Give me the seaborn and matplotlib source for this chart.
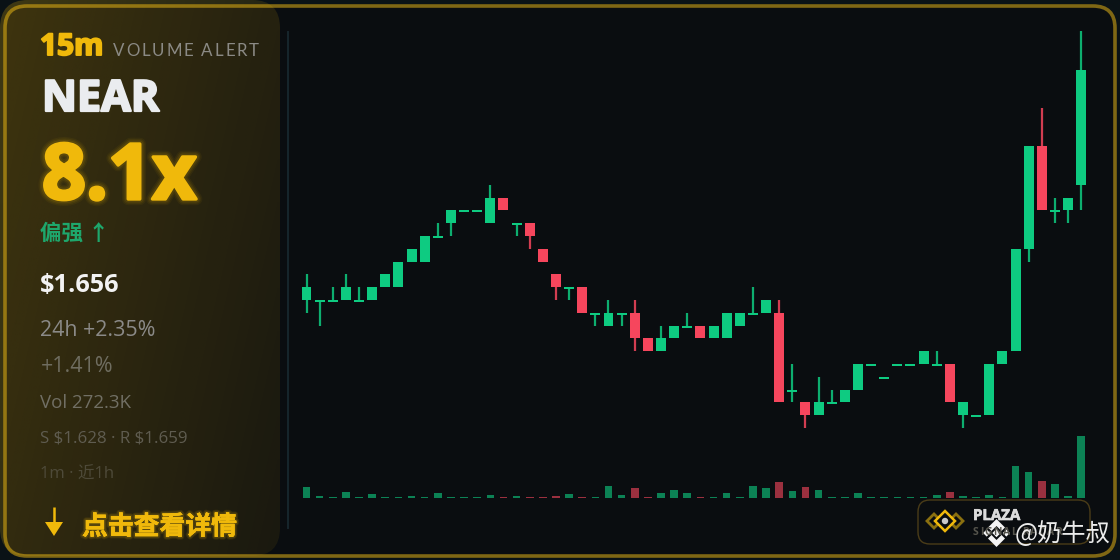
import numpy as np
import pandas as pd
import matplotlib
matplotlib.use('Agg')
import matplotlib.pyplot as plt
import matplotlib.patheffects as pe
from matplotlib.patches import FancyBboxPatch, Polygon, Circle
import seaborn as sns

# candle data, prices in thousandths of a dollar
opens  = [1638,1638,1638,1638,1638,1638,1639,1639,1641,1641,1643,1644,1645,1645,1644,
          1646,1644,1644,1642,1640,1639,1639,1637,1636,1637,1637,1635,1634,1635,1636,
          1636,1635,1635,1636,1637,1637,1637,1631,1630,1629,1630,1630,1631,1633,1632,
          1633,1633,1633,1633,1633,1629,1629,1629,1633,1634,1642,1650,1645,1645,1647]
closes = [1639,1638,1638,1639,1638,1639,1640,1641,1642,1643,1643,1645,1645,1645,1646,
          1645,1644,1643,1641,1639,1639,1637,1637,1637,1637,1635,1634,1635,1636,1636,
          1635,1636,1637,1637,1637,1638,1630,1631,1629,1630,1630,1631,1633,1633,1632,
          1633,1633,1634,1633,1630,1630,1629,1633,1634,1642,1650,1645,1645,1646,1656]
highs  = [1640,1638,1639,1640,1639,1639,1640,1641,1642,1643,1644,1645,1645,1645,1647,
          1646,1644,1644,1642,1640,1639,1639,1637,1638,1637,1638,1635,1636,1636,1637,
          1636,1636,1637,1637,1639,1638,1638,1633,1630,1632,1631,1631,1633,1633,1632,
          1633,1633,1634,1634,1633,1630,1629,1633,1634,1642,1650,1653,1646,1646,1659]
lows   = [1637,1636,1638,1638,1638,1638,1639,1639,1641,1641,1643,1643,1645,1645,1644,
          1645,1643,1642,1641,1638,1638,1637,1636,1636,1636,1634,1634,1634,1635,1636,
          1635,1635,1635,1636,1637,1637,1630,1630,1628,1629,1630,1630,1631,1633,1632,
          1633,1633,1633,1633,1630,1628,1629,1629,1633,1634,1641,1645,1644,1644,1645]
# volume in thousands
volumes = [47,8.8,4.4,26,4.4,16,4.4,4.4,6.6,4.4,22,4.4,4.4,4.4,14.5,
           4.4,8.8,4.4,4.4,6.6,17.6,4.4,4.4,53,12,45,4.4,22,35,22,
           4.4,4.4,21,4.4,51,44,69,31,50,34,4.4,4.4,23,4.4,4.4,
           5.7,4.4,4.4,12,26,7.5,4.4,12,4.4,142,113,73,61,8.8,272.3]

GREEN = '#0ecb81'
RED = '#f6465d'
GOLD = '#f0b90b'
BG = '#0a0d10'
LATIN = ['Open Sans', 'Noto Sans CJK SC', 'DejaVu Sans']

sns.set_theme(style='dark', rc={'figure.facecolor': '#0a1216', 'axes.facecolor': 'none'})
plt.rcParams['font.family'] = ['Noto Sans CJK SC', 'DejaVu Sans']

df = pd.DataFrame({'idx': np.arange(len(opens)), 'open': opens, 'close': closes,
                   'high': highs, 'low': lows, 'vol': volumes})
df['up'] = df['close'] >= df['open']
df['bottom'] = df[['open', 'close']].max(axis=1) / 1000
df['body'] = (df['close'] - df['open']).abs() / 1000
# flat candles still show as a thin 2px dash
df['body'] = df['body'].clip(lower=0.00016)
df['bottom'] = df['bottom'] - df['body']

W, H = 1120, 560
fig = plt.figure(figsize=(11.2, 5.6), dpi=100)


def px_rect(x0, y0, x1, y1):
    return [x0 / W, 1 - y1 / H, (x1 - x0) / W, (y1 - y0) / H]


# background layer in pixel coords
bg = fig.add_axes([0, 0, 1, 1], zorder=0)
bg.set_xlim(0, W)
bg.set_ylim(H, 0)
bg.axis('off')

card = FancyBboxPatch((5, 6), 1110, 550, boxstyle='round,pad=0,rounding_size=22',
                      fc=BG, ec='#7f6714', lw=2.6, zorder=1)
bg.add_patch(card)

# gold panel on the left, fading towards the right
yy, xx = np.mgrid[0:1:60j, 0:1:60j]
alpha = 0.23 - 0.11 * xx - 0.05 * yy
grad = np.zeros((60, 60, 4))
grad[..., 0] = 240 / 255
grad[..., 1] = 185 / 255
grad[..., 2] = 11 / 255
grad[..., 3] = alpha
im = bg.imshow(grad, extent=(0, 280, 556, 0), aspect='auto', zorder=2, interpolation='bilinear')
panel = FancyBboxPatch((0, 0), 280, 556, boxstyle='round,pad=0,rounding_size=28',
                       fc='none', ec='none', transform=bg.transData)
bg.add_patch(panel)
im.set_clip_path(panel)
bg.set_xlim(0, W)
bg.set_ylim(H, 0)

# candle chart, axes edges chosen so candle 0 lands at x=306.5 and 13.13px per candle
STEP = 13.13
ax = fig.add_axes(px_rect(288, 32, 1100, 528), zorder=1)
vol_ax = ax.twinx()
xlim = ((288 - 306.5) / STEP, (1100 - 306.5) / STEP)
PX_PER_UNIT = 12800
ylim = (1.638 - 228 / PX_PER_UNIT, 1.638 + 268 / PX_PER_UNIT)
PX_PER_K = 62 / 272.3

for up, color in [(True, GREEN), (False, RED)]:
    sub = df[df['up'] == up].sort_values('idx')
    ax.vlines(sub['idx'], sub['low'] / 1000, sub['high'] / 1000, color=color, lw=1.6,
              alpha=0.85, zorder=2, clip_on=False)
    sns.barplot(data=sub, x='idx', y='body', bottom=sub['bottom'].values, native_scale=True,
                color=color, saturation=1, width=0.76, errorbar=None, ax=ax, zorder=3,
                linewidth=0)
    sns.barplot(data=sub, x='idx', y='vol', native_scale=True, color=color, saturation=1,
                alpha=0.62, width=0.58, errorbar=None, ax=vol_ax, linewidth=0)

ax.set_xlim(xlim)
ax.set_ylim(ylim)
vol_ax.set_xlim(xlim)
vol_ax.set_ylim(-30 / PX_PER_K, 466 / PX_PER_K)
for a in (ax, vol_ax):
    a.set_xticks([])
    a.set_yticks([])
    a.set_xlabel('')
    a.set_ylabel('')
    a.grid(False)
    for s in a.spines.values():
        s.set_visible(False)
ax.spines['left'].set_visible(True)
ax.spines['left'].set_color('#17262c')
ax.spines['left'].set_linewidth(1.4)

# overlay for texts and logos, pixel coords
ov = fig.add_axes([0, 0, 1, 1], zorder=5)
ov.set_xlim(0, W)
ov.set_ylim(H, 0)
ov.axis('off')
ov.patch.set_alpha(0)


def spaced_text(x, y, s, spacing, **kw):
    # matplotlib has no letter spacing, so place char by char
    rend = fig.canvas.get_renderer()
    for k, ch in enumerate(s):
        t = ov.text(0, 0, s[:k] + '|', **kw)
        w = t.get_window_extent(rend).width
        t.set_text('|')
        w -= t.get_window_extent(rend).width
        t.remove()
        ov.text(x + w + k * spacing, y, ch, **kw)


thick = lambda c, w: [pe.withStroke(linewidth=w, foreground=c)]
soft = lambda c, layers, w: [pe.withStroke(linewidth=lw, foreground=c, alpha=a) for lw, a in layers] \
    + [pe.withStroke(linewidth=w, foreground=c)]

ov.text(40, 55, '15m', color=GOLD, fontsize=21.5, fontweight='bold', family=LATIN,
        va='baseline', path_effects=thick(GOLD, 1.4))
spaced_text(113, 56, 'VOLUME ALERT', 1.85, color='#8b8a85', fontsize=12.2,
            family=['Lato', 'DejaVu Sans'], va='baseline')
ov.text(42, 111, 'NEAR', color='#eaecef', fontsize=31, fontweight='bold',
        family=LATIN, va='baseline', path_effects=thick('#eaecef', 1.6))
ov.text(42, 199, '8.1x', color=GOLD, fontsize=55.5, fontweight='bold',
        family=LATIN, va='baseline',
        path_effects=soft(GOLD, [(9, 0.05), (7, 0.07), (5, 0.1)], 2.4))
ov.text(40, 233, '偏强 ↑', color='#1ea76c', fontsize=15.5, fontweight='bold', va='center')
ov.text(40, 285, r'\$1.656', color='#f2f2f2', fontsize=18.2, fontweight='bold', family=LATIN, va='center')
ov.text(40, 331, '24h +2.35%', color='#8b8a88', fontsize=15.4, family=LATIN, va='center')
ov.text(41, 367, '+1.41%', color='#6f6d60', fontsize=15.4, family=LATIN, va='center')
ov.text(40, 403, 'Vol 272.3K', color='#716f64', fontsize=13.5, family=LATIN, va='center')
ov.text(40, 439, r'S \$1.628 · R \$1.659', color='#5f5c50', fontsize=12.2, family=LATIN, va='center')
ov.text(40, 475, '1m · 近1h', color='#4e4a39', fontsize=12, family=LATIN, va='center')

# down arrow
ov.plot([54, 54], [507, 528], color=GOLD, lw=1.8, solid_capstyle='butt')
ov.add_patch(Polygon([[45, 522], [63, 522], [54, 536]], closed=True, fc=GOLD, ec='none'))
ov.text(82, 527, '点击查看详情', color=GOLD, fontsize=18.6, fontweight='bold', va='center',
        path_effects=soft(GOLD, [(4, 0.1), (2.5, 0.14)], 0.3))

# plaza badge
ov.add_patch(FancyBboxPatch((918, 500), 172, 44, boxstyle='round,pad=0,rounding_size=12',
                            fc='none', ec='#4a3c18', lw=1))


def diamond(cx, cy, r, **kw):
    ov.add_patch(Polygon([[cx, cy - r], [cx + r, cy], [cx, cy + r], [cx - r, cy]], closed=True, **kw))


diamond(934, 521, 7, fc='none', ec='#8a7010', lw=2)
diamond(956, 521, 7, fc='none', ec='#8a7010', lw=2)
diamond(945, 521, 10, fc=BG, ec=GOLD, lw=1.8)
ov.add_patch(Circle((945, 521), 3.2, fc='#c9c9c9', ec='none'))
ov.text(973, 520, 'PLAZA', color='#dcdcdc', fontsize=10.8, fontweight='bold',
        family=LATIN, va='baseline', path_effects=thick('#dcdcdc', 0.5))
spaced_text(973, 535, 'SIGNAL RADAR', 1.2, color='#55544c', fontsize=7.5,
            family=LATIN, va='baseline', fontweight='bold')

# platform watermark
cx, cy = 996.5, 533
white = '#f4f4f4'
diamond(cx, cy, 4.2, fc=white, ec='none')
diamond(cx - 9.8, cy, 3.6, fc=white, ec='none')
diamond(cx + 9.8, cy, 3.6, fc=white, ec='none')
ov.add_patch(Polygon([[cx, cy - 14], [cx + 8.5, cy - 5.5], [cx + 5, cy - 2], [cx, cy - 7],
                      [cx - 5, cy - 2], [cx - 8.5, cy - 5.5]], closed=True, fc=white, ec='none'))
ov.add_patch(Polygon([[cx, cy + 14], [cx + 8.5, cy + 5.5], [cx + 5, cy + 2], [cx, cy + 7],
                      [cx - 5, cy + 2], [cx - 8.5, cy + 5.5]], closed=True, fc=white, ec='none'))
ov.text(1015, 534, '@奶牛叔', color='#ececec', fontsize=17.5, va='center',
        family=['Noto Sans CJK SC', 'DejaVu Sans'], fontweight='light')

fig.savefig('out.png', dpi=100, facecolor=fig.get_facecolor())
plt.close(fig)
